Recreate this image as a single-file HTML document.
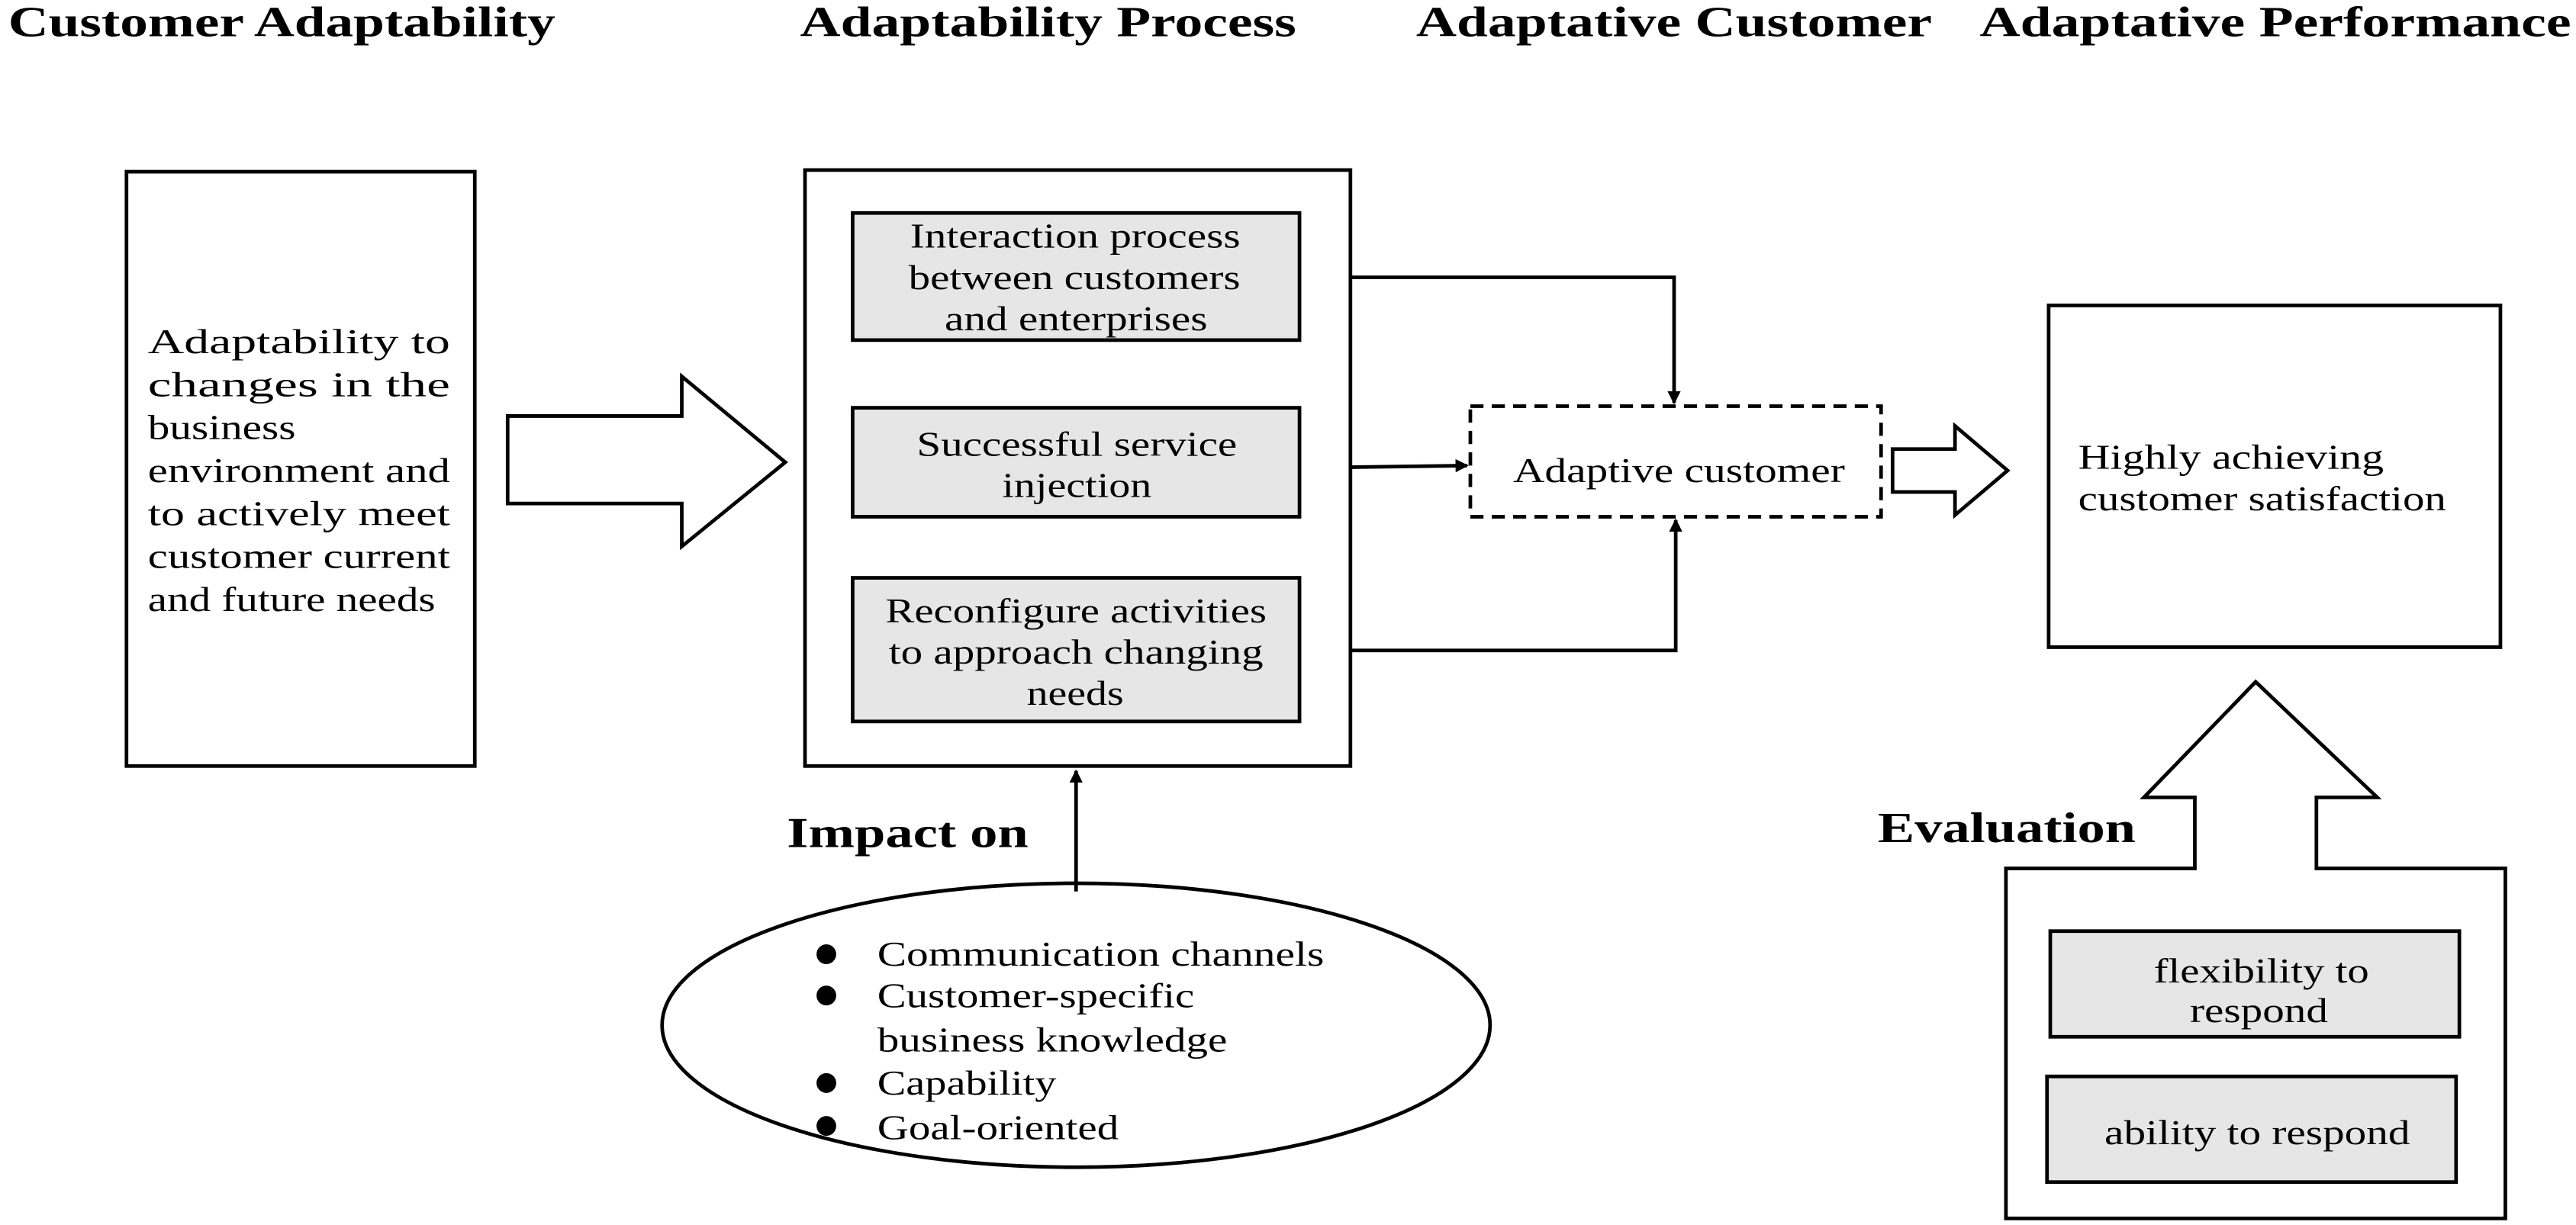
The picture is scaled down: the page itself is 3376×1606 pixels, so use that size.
<!DOCTYPE html>
<html><head><meta charset="utf-8"><style>
html,body{margin:0;padding:0;background:#fff;}
svg{display:block;}
text{font-family:"Liberation Serif",serif;fill:#000;}
.t{font-weight:bold;font-size:26px;}
.b{font-size:21px;}
</style></head><body>
<svg width="3376" height="1606" viewBox="0 0 1568 742" preserveAspectRatio="none" xmlns="http://www.w3.org/2000/svg">
<defs>
<marker id="ah" markerWidth="8" markerHeight="8" refX="7" refY="4" orient="auto" markerUnits="userSpaceOnUse">
<path d="M0,0 L8,4 L0,8 z" fill="#000"/>
</marker>
</defs>
<text class="t" x="5" y="22" textLength="333" lengthAdjust="spacingAndGlyphs">Customer Adaptability</text>
<text class="t" x="487" y="22" textLength="302" lengthAdjust="spacingAndGlyphs">Adaptability Process</text>
<text class="t" x="862" y="22" textLength="314" lengthAdjust="spacingAndGlyphs">Adaptative Customer</text>
<text class="t" x="1205" y="22" textLength="360" lengthAdjust="spacingAndGlyphs">Adaptative Performance</text>

<g fill="none" stroke="#000" stroke-width="2.2">
<rect x="77" y="104" width="212" height="360"/>
<polygon points="309,252 415,252 415,228 478,280 415,331 415,305 309,305" fill="#fff"/>
<rect x="490" y="103" width="332" height="361"/>
<rect x="519" y="129" width="272" height="77" fill="#e6e6e6"/>
<rect x="519" y="247" width="272" height="66" fill="#e6e6e6"/>
<rect x="519" y="350" width="272" height="87" fill="#e6e6e6"/>
<polyline points="822,168 1019,168 1019,244" marker-end="url(#ah)"/>
<line x1="822" y1="283" x2="893" y2="282" marker-end="url(#ah)"/>
<polyline points="822,394 1020,394 1020,315" marker-end="url(#ah)"/>
<rect x="895" y="246" width="250" height="67" stroke-dasharray="8,5"/>
<polygon points="1152,272 1190,272 1190,258 1222,285 1190,312 1190,298 1152,298" fill="#fff"/>
<rect x="1247" y="185" width="275" height="207"/>
<polygon points="1373,413 1447,483 1410,483 1410,526 1525,526 1525,738 1221,738 1221,526 1336,526 1336,483 1305,483"/>
<rect x="1248" y="564" width="249" height="64" fill="#e6e6e6"/>
<rect x="1246" y="652" width="249" height="64" fill="#e6e6e6"/>
<line x1="655" y1="540" x2="655" y2="467" marker-end="url(#ah)"/>
<ellipse cx="655" cy="621" rx="252" ry="86"/>
</g>

<g class="b">
<text x="90" y="214" textLength="184" lengthAdjust="spacingAndGlyphs">Adaptability  to</text>
<text x="90" y="240" textLength="184" lengthAdjust="spacingAndGlyphs">changes  in  the</text>
<text x="90" y="266" textLength="90" lengthAdjust="spacingAndGlyphs">business</text>
<text x="90" y="292" textLength="184" lengthAdjust="spacingAndGlyphs">environment and</text>
<text x="90" y="318" textLength="184" lengthAdjust="spacingAndGlyphs">to actively meet</text>
<text x="90" y="344" textLength="184" lengthAdjust="spacingAndGlyphs">customer current</text>
<text x="90" y="370" textLength="175" lengthAdjust="spacingAndGlyphs">and future needs</text>

<text x="554" y="150" textLength="201" lengthAdjust="spacingAndGlyphs">Interaction process</text>
<text x="553" y="175" textLength="202" lengthAdjust="spacingAndGlyphs">between customers</text>
<text x="575" y="200" textLength="160" lengthAdjust="spacingAndGlyphs">and enterprises</text>
<text x="558" y="276" textLength="195" lengthAdjust="spacingAndGlyphs">Successful service</text>
<text x="610" y="301" textLength="91" lengthAdjust="spacingAndGlyphs">injection</text>
<text x="539" y="377" textLength="232" lengthAdjust="spacingAndGlyphs">Reconfigure activities</text>
<text x="541" y="402" textLength="228" lengthAdjust="spacingAndGlyphs">to approach changing</text>
<text x="625" y="427" textLength="59" lengthAdjust="spacingAndGlyphs">needs</text>
<text x="921" y="292" textLength="202" lengthAdjust="spacingAndGlyphs">Adaptive customer</text>
<text x="1265" y="284" textLength="186" lengthAdjust="spacingAndGlyphs">Highly achieving</text>
<text x="1265" y="309" textLength="224" lengthAdjust="spacingAndGlyphs">customer satisfaction</text>
<text x="1311" y="595" textLength="131" lengthAdjust="spacingAndGlyphs">flexibility to</text>
<text x="1333" y="619" textLength="84" lengthAdjust="spacingAndGlyphs">respond</text>
<text x="1281" y="693" textLength="186" lengthAdjust="spacingAndGlyphs">ability to respond</text>

<text x="534" y="585" textLength="272" lengthAdjust="spacingAndGlyphs">Communication channels</text>
<text x="534" y="610" textLength="193" lengthAdjust="spacingAndGlyphs">Customer-specific</text>
<text x="534" y="637" textLength="213" lengthAdjust="spacingAndGlyphs">business knowledge</text>
<text x="534" y="663" textLength="109" lengthAdjust="spacingAndGlyphs">Capability</text>
<text x="534" y="690" textLength="147" lengthAdjust="spacingAndGlyphs">Goal-oriented</text>
</g>

<text x="479" y="513" class="t" textLength="147" lengthAdjust="spacingAndGlyphs">Impact on</text>
<text x="1143" y="510" class="t" textLength="157" lengthAdjust="spacingAndGlyphs">Evaluation</text>

<g fill="#000">
<circle cx="503" cy="578" r="6"/>
<circle cx="503" cy="603" r="6"/>
<circle cx="503" cy="656" r="6"/>
<circle cx="503" cy="682" r="6"/>
</g>
</svg>
</body></html>
